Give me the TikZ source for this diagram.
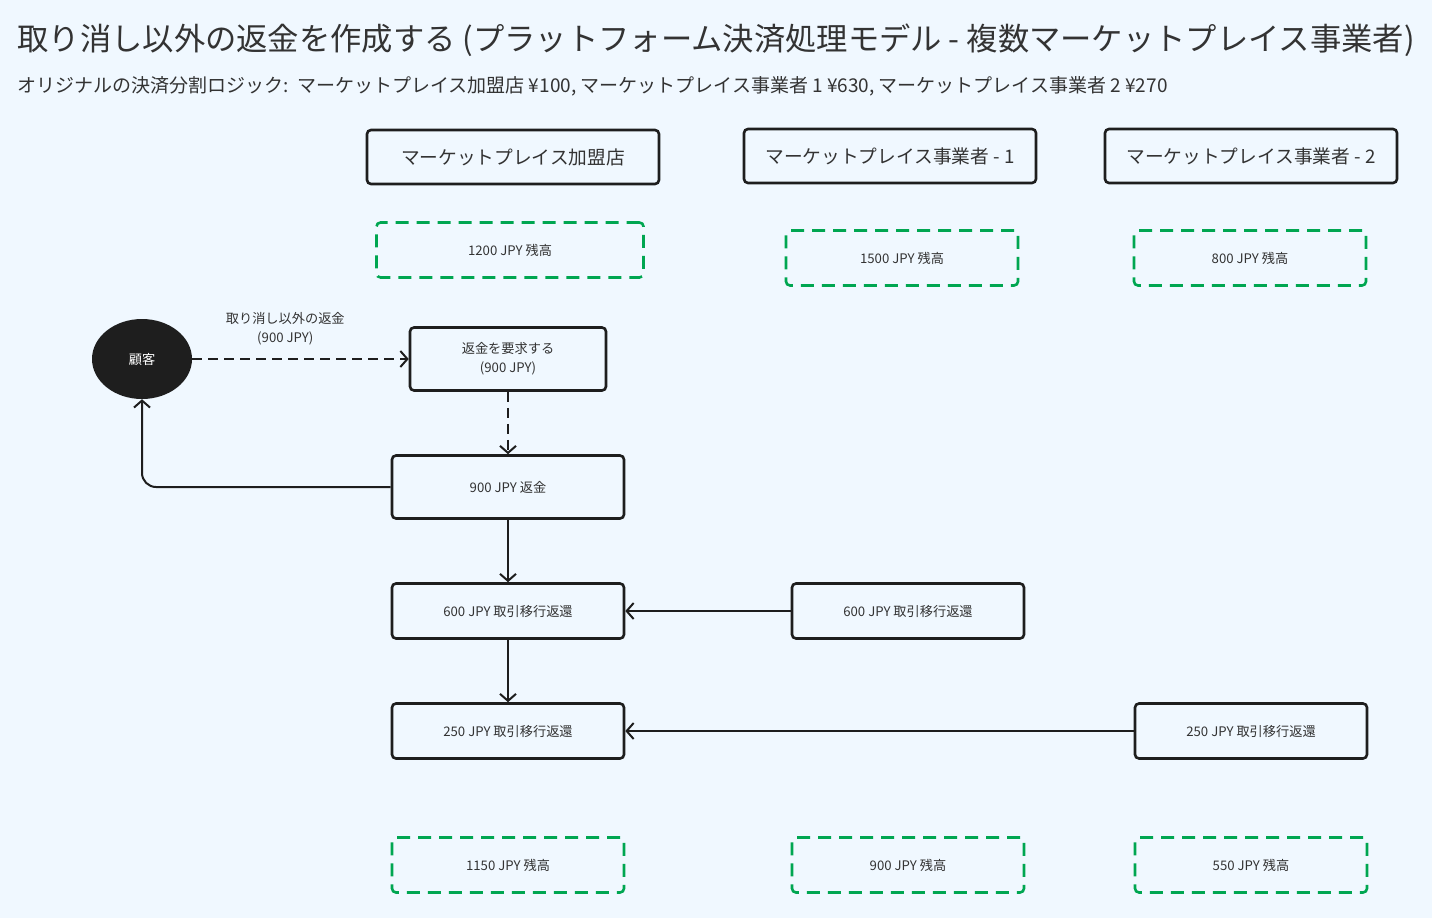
\documentclass[tikz,border=0pt]{standalone}
\usepackage{fontspec}
\setmainfont{Noto Sans CJK JP}
\usetikzlibrary{arrows.meta,shapes.geometric}
\definecolor{bg}{RGB}{240,248,255}
\definecolor{ink}{RGB}{30,30,30}
\definecolor{txt}{RGB}{51,51,51}
\definecolor{okgreen}{RGB}{0,166,81}
\begin{document}
\begin{tikzpicture}[x=1pt,y=-1pt]

\tikzset{hdr/.style={draw=ink,line width=2.6pt,rounded corners=4pt,minimum width=292pt,minimum height=54pt,text=txt,font=\fontsize{18.7}{22}\selectfont},
    stepbox/.style={draw=ink,line width=2.6pt,rounded corners=4pt,minimum width=232pt,minimum height=55pt,text=txt,align=center,font=\fontsize{13.2}{19}\selectfont},
    bal/.style={draw=okgreen,line width=2.6pt,dash pattern=on 13pt off 8pt,rounded corners=4pt,minimum width=232pt,minimum height=55pt,text=txt,font=\fontsize{13.2}{15}\selectfont},
    flow/.style={draw=ink,line width=2pt,-{Straight Barb[length=7pt,width=16pt,line width=2pt]}}}

\fill[bg] (0,0) rectangle (1432,918);
\useasboundingbox (0,0) rectangle (1432,918);

% titles
\node[anchor=west,text=txt,font=\fontsize{31.3}{36}\selectfont] (title) at (14,40) {取り消し以外の返金を作成する (プラットフォーム決済処理モデル - 複数マーケットプレイス事業者)};
\node[anchor=west,text=txt,font=\fontsize{19}{22}\selectfont] (sub) at (14,86) {オリジナルの決済分割ロジック:\ \ マーケットプレイス加盟店 ¥100, マーケットプレイス事業者 1 ¥630, マーケットプレイス事業者 2 ¥270};

% lanes
\node[hdr] (merchant) at (513,157) {マーケットプレイス加盟店};
\node[hdr] (op1) at (890,156) {マーケットプレイス事業者 - 1};
\node[hdr] (op2) at (1251,156) {マーケットプレイス事業者 - 2};

\node[bal,minimum width=267pt] (mbal) at (510,250) {1200 JPY 残高};
\node[bal] (bal1) at (902,258) {1500 JPY 残高};
\node[bal] (bal2) at (1250,258) {800 JPY 残高};

% flow
\node[ellipse,fill=ink,minimum width=100pt,minimum height=80pt,text=white,font=\fontsize{13.2}{15}\selectfont] (cust) at (142,359) {顧客};
\node[stepbox,minimum width=196pt,minimum height=63pt] (request) at (508,359) {返金を要求する\\(900 JPY)};
\node[stepbox,minimum height=63pt] (refund) at (508,487) {900 JPY 返金};
\node[stepbox] (trm1) at (508,611) {600 JPY 取引移行返還};
\node[stepbox] (tro1) at (908,611) {600 JPY 取引移行返還};
\node[stepbox] (trm2) at (508,731) {250 JPY 取引移行返還};
\node[stepbox] (tro2) at (1251,731) {250 JPY 取引移行返還};

\node[bal] (mend) at (508,865) {1150 JPY 残高};
\node[bal] (end1) at (908,865) {900 JPY 残高};
\node[bal] (end2) at (1251,865) {550 JPY 残高};

\draw[flow,dash pattern=on 10pt off 6pt] (cust.east) -- node[pos=0.43,above=10pt,align=center,text=txt,font=\fontsize{13.2}{19}\selectfont] (lbl) {取り消し以外の返金\\(900 JPY)} (request.west);
\draw[flow,dash pattern=on 10pt off 6pt] (request) -- (refund);
\draw[flow,rounded corners=14pt] (refund.west) -| (cust.south);
\draw[flow] (refund) -- (trm1);
\draw[flow] (tro1) -- (trm1);
\draw[flow] (trm1) -- (trm2);
\draw[flow] (tro2) -- (trm2);

\end{tikzpicture}
\end{document}
